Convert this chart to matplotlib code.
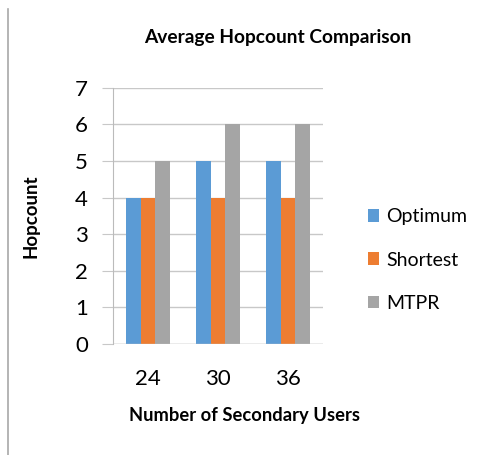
import matplotlib
matplotlib.use("Agg")
import matplotlib.pyplot as plt
from matplotlib.lines import Line2D
import numpy as np

plt.rcParams['font.family'] = ['Lato', 'DejaVu Sans']

users = ['24', '30', '36']
optimum = [4, 5, 5]
shortest = [4, 4, 4]
mtpr = [5, 6, 6]
series_names = ['Optimum', 'Shortest', 'MTPR']
colors = ['#5B9BD5', '#ED7D31', '#A5A5A5']

W, H = 485, 455
fig = plt.figure(figsize=(W / 100, H / 100), dpi=100)
ax = fig.add_axes([0.233, 0.244, 0.433, 0.563])

x = np.arange(len(users))
w = 0.214
for i, (vals, name, c) in enumerate(zip([optimum, shortest, mtpr], series_names, colors)):
    ax.bar(x + (i - 1) * w, vals, width=w, color=c, label=name, zorder=3)

ax.set_xlim(-0.5, 2.5)
ax.set_ylim(0, 7)
ax.set_yticks(range(0, 8))
ax.set_xticks(x)
ax.set_xticklabels(users)
ax.yaxis.grid(True, color='#C8C8C8', linewidth=1, zorder=0)
for s in ['top', 'right', 'bottom']:
    ax.spines[s].set_visible(False)
ax.spines['left'].set_color('#BBBBBB')
ax.tick_params(axis='y', length=8, color='#C8C8C8', labelsize=16, pad=10)
ax.tick_params(axis='x', length=0, labelsize=16, pad=18)
ax.axhline(0, color='#C8C8C8', linewidth=1, zorder=4)

# title and axis labels placed in figure pixels
fig.text(278 / W, 1 - 38 / H, 'Average Hopcount Comparison', fontsize=13.8,
         fontweight='bold', ha='center', va='center')
fig.text(245 / W, 1 - 415 / H, 'Number of Secondary Users', fontsize=13.2,
         fontweight='bold', ha='center', va='center')
fig.text(31 / W, 1 - 216 / H, 'Hopcount', fontsize=13.5, fontweight='bold',
         rotation=90, ha='center', va='center')

fig.legend(loc='center left', bbox_to_anchor=(358 / W, 1 - 260 / H), frameon=False,
           fontsize=14, handlelength=0.6, handleheight=0.6, handletextpad=0.35,
           labelspacing=1.35, borderpad=0)

fig.add_artist(Line2D([8 / W, 8 / W], [0.0, 1 - 9 / H], color='#A8A8A8', linewidth=1.2))

fig.savefig('out.png', dpi=100)
